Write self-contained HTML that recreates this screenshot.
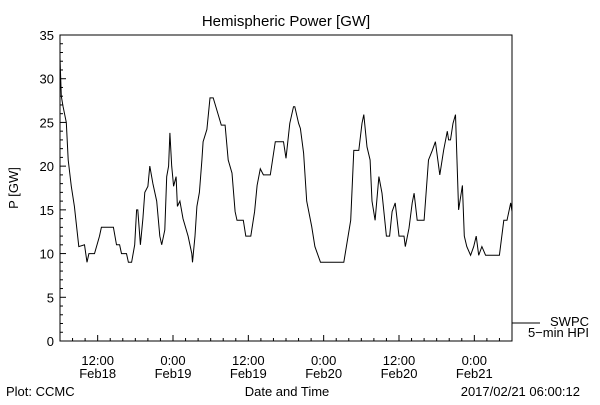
<!DOCTYPE html>
<html><head><meta charset="utf-8"><style>
body{margin:0;background:#fff}
svg text{font-family:"Liberation Sans",sans-serif;font-size:13px;fill:#000}
</style></head><body>
<svg id="chart" width="600" height="400" viewBox="0 0 600 400">
<rect width="600" height="400" fill="#fff"/>
<text x="286" y="26" text-anchor="middle" font-size="15" style="font-size:15px">Hemispheric Power [GW]</text>
<rect x="60" y="35" width="452" height="306" fill="none" stroke="#000" stroke-width="1"/>
<g id="yaxis"></g>
<g id="xaxis"></g>
<polyline id="series" fill="none" stroke="#000" stroke-width="1"/>
<text transform="translate(18,188) rotate(-90)" text-anchor="middle">P [GW]</text>
<text x="287" y="396" text-anchor="middle">Date and Time</text>
<text x="6" y="396">Plot: CCMC</text>
<text x="580" y="396" text-anchor="end">2017/02/21 06:00:12</text>
<line x1="512" y1="323" x2="540" y2="323" stroke="#000"/>
<text x="589" y="326" text-anchor="end">SWPC</text>
<text x="589" y="337" text-anchor="end">5−min HPI</text>
</svg>
<script>
const hours=[0,0.2,0.5,1,1.3,1.8,2.3,3,3.9,4.3,4.6,5.5,6.3,6.6,8.5,9,9.5,9.8,10.6,10.9,11.4,11.9,12.2,12.4,12.8,13.2,13.5,14,14.3,14.8,15.4,15.9,16.2,16.7,17,17.3,17.5,17.8,18.1,18.5,18.7,19.1,19.6,20.4,21,21.1,21.5,21.8,22.2,22.6,22.8,23.4,23.9,24.4,25.2,25.7,26.3,26.8,27.4,27.9,28.2,29.2,29.6,30.4,31,31.4,31.9,32.4,33.5,34.3,35.6,36,36.6,37.2,37.4,38,38.3,38.8,39.3,40.1,40.6,41.5,45.2,46.3,46.8,47.6,48.1,48.4,48.9,49.4,49.7,50.2,50.8,51.3,52,52.5,52.9,53.4,54,54.8,55,55.6,56.1,56.4,56.9,58,58.7,59.3,59.8,60.5,61.1,61.7,61.9,62.2,62.6,63,63.5,64.1,64.4,64.8,65.4,65.9,66.3,66.7,67.2,67.8,70,70.7,71.2,71.8,72];
const power=[32.4,28,26.8,25,20.7,17.7,15.4,10.8,11,9,10,10,12,13,13,11,11,10,10,9,9,11,15,15,11,14,17,17.7,20,18,16,12,11,12.7,18.8,20,23.8,20,17.7,18.8,15.4,16,14,12,10,9,12,15.4,17,20.7,22.8,24.2,27.8,27.8,25.9,24.7,24.7,20.7,19.2,14.8,13.8,13.8,12,12,14.8,17.8,19.7,19,19,22.8,22.8,20.9,24.9,26.8,26.8,24.9,24.3,21.5,16,13.1,10.8,9,9,13.8,21.8,21.8,24.9,25.9,22.2,20.7,16,13.8,18.8,16.9,12,12,14.8,15.8,12,12,10.8,12.9,15.8,16.9,13.8,13.8,20.7,21.8,22.8,19,21.8,24,23,23,24.9,25.9,15,17.8,12,10.8,9.8,10.8,12,9.8,10.8,9.8,9.8,13.8,13.8,15.8,14.8];
const yTicks=[0,5,10,15,20,25,30,35];
const xTickHours=[6,18,30,42,54,66];
const xTickLabels=[["12:00","Feb18"],["0:00","Feb19"],["12:00","Feb19"],["0:00","Feb20"],["12:00","Feb20"],["0:00","Feb21"]];
const NS="http://www.w3.org/2000/svg";
const X0=60,X1=512,Y0=341,Y1=35,HMAX=72,VMAX=35;
const xs=h=>X0+h/HMAX*(X1-X0);
const ys=v=>Y0-v/VMAX*(Y0-Y1);
function mk(t,a,p){const e=document.createElementNS(NS,t);for(const k in a)e.setAttribute(k,a[k]);p.appendChild(e);return e;}
const ya=document.getElementById('yaxis'),xa=document.getElementById('xaxis');
for(let v=0;v<=35;v++){const l=mk('line',{x1:X0,x2:X0+(v%5?3:6),y1:ys(v),y2:ys(v),stroke:'#000'},ya);

}
yTicks.forEach(v=>{const t=mk('text',{x:X0-6,y:ys(v)+5,'text-anchor':'end'},ya);t.textContent=v;

});
for(let h=0;h<=HMAX;h+=2){const major=(h-6)%12===0;const l=mk('line',{x1:xs(h),x2:xs(h),y1:Y0,y2:Y0-(major?6:3),stroke:'#000'},xa);

}
xTickHours.forEach((h,i)=>{const a=mk('text',{x:xs(h),y:Y0+24,'text-anchor':'middle'},xa);a.textContent=xTickLabels[i][0];


const b=mk('text',{x:xs(h),y:Y0+37,'text-anchor':'middle'},xa);b.textContent=xTickLabels[i][1];

});
document.getElementById('series').setAttribute('points',hours.map((h,i)=>xs(h).toFixed(1)+','+ys(power[i]).toFixed(1)).join(' '));
</script>
</body></html>
